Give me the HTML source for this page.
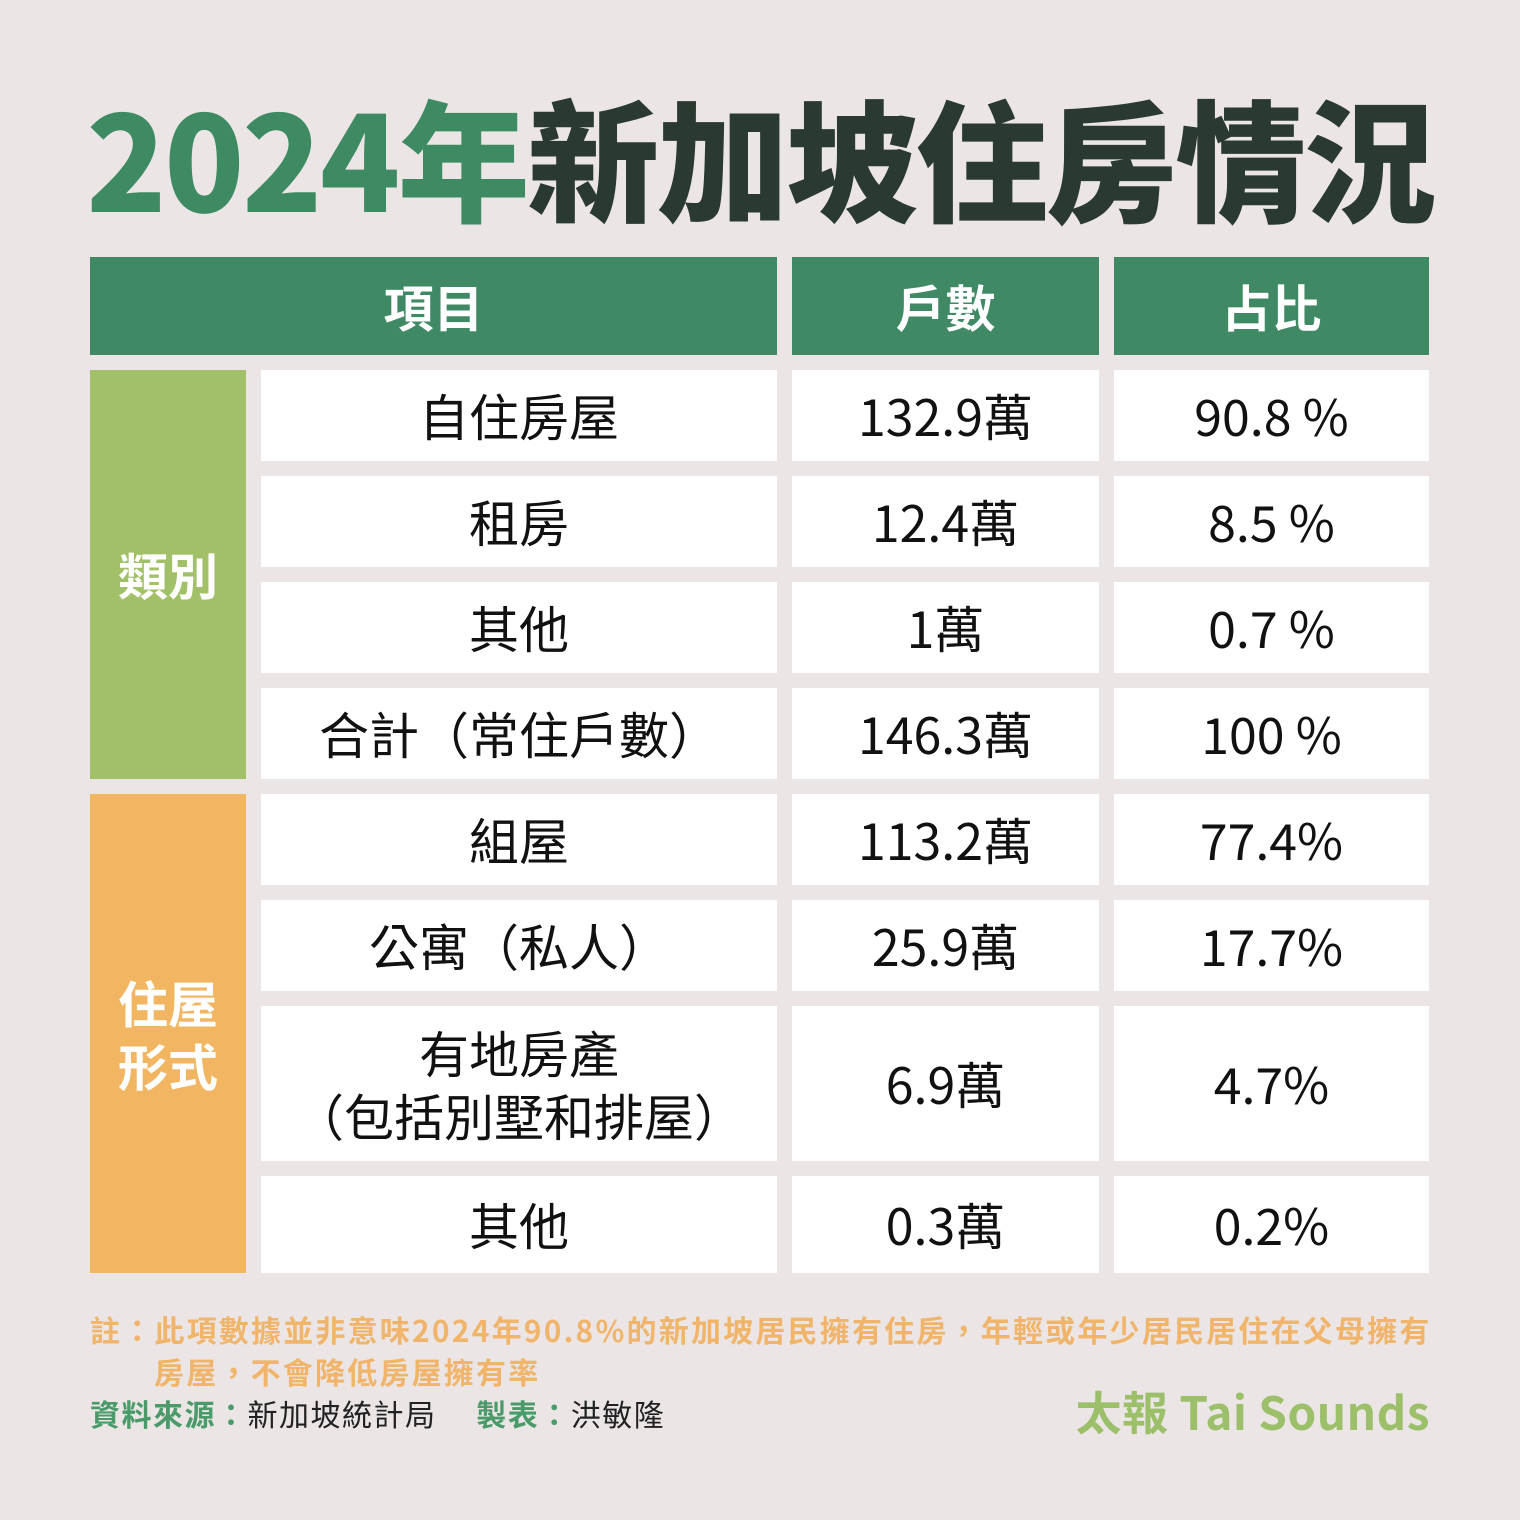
<!DOCTYPE html>
<html><head><meta charset="utf-8"><style>
body{margin:0;width:1520px;height:1520px;background:#ebe6e5;position:relative;overflow:hidden;font-family:"Noto Sans CJK TC","Liberation Sans",sans-serif}
.a{position:absolute;display:flex;align-items:center;justify-content:center;text-align:center}
.h{background:#3f8a65;color:#fff;font-weight:bold;font-size:50px}
.c{background:#fff;color:#111;font-size:50px;line-height:1.25}
.g{background:#a1c068;color:#fff;font-weight:bold;font-size:50px;line-height:1.25}
.o{background:#f2b663;color:#fff;font-weight:bold;font-size:50px;line-height:1.25}
</style></head><body>
<div class="a" style="left:60px;top:80px;width:1400px;height:150px;font-size:132px;font-weight:900;letter-spacing:-2.5px;font-family:'Noto Sans CJK TC',sans-serif;color:#2b3a30"><span style="color:#3d8a63">2024年</span>新加坡住房情況</div>

<div class="a h" style="left:90px;top:257px;width:687px;height:98px">項目</div>
<div class="a h" style="left:792px;top:257px;width:307px;height:98px">戶數</div>
<div class="a h" style="left:1114px;top:257px;width:315px;height:98px">占比</div>

<div class="a g" style="left:90px;top:370px;width:156px;height:409px">類別</div>
<div class="a o" style="left:90px;top:794px;width:156px;height:479px">住屋<br>形式</div>

<div id="rows"></div>
<script>
const items=["自住房屋","租房","其他","合計（常住戶數）","組屋","公寓（私人）","有地房產<br>（包括別墅和排屋）","其他"];
const counts=["132.9萬","12.4萬","1萬","146.3萬","113.2萬","25.9萬","6.9萬","0.3萬"];
const shares=["90.8 %","8.5 %","0.7 %","100 %","77.4%","17.7%","4.7%","0.2%"];
const tops=[370,476,582,688,794,900,1006,1176];
const hs=[91,91,91,91,91,91,155,97];
const cont=document.getElementById('rows');
const cols=[[261,516],[792,307],[1114,315]];
for(let i=0;i<items.length;i++){
 const vals=[items[i],counts[i],shares[i]];
 const names=['row-item','row-count','row-share'];
 for(let j=0;j<3;j++){
  const d=document.createElement('div');
  d.className='a c';
  d.style.cssText=`left:${cols[j][0]}px;top:${tops[i]}px;width:${cols[j][1]}px;height:${hs[i]}px`;
  d.innerHTML=vals[j];
  
  
  cont.appendChild(d);
 }
}
</script>

<div style="position:absolute;left:90px;top:1308px;width:1400px;font-size:30px;letter-spacing:2.2px;font-weight:bold;color:#f0b56a;line-height:42px;white-space:nowrap">註：此項數據並非意味2024年90.8%的新加坡居民擁有住房，年輕或年少居民居住在父母擁有<br><span style="padding-left:64px">房屋，不會降低房屋擁有率</span></div>
<div style="position:absolute;left:90px;top:1392px;font-size:30px;letter-spacing:1.5px;color:#222;line-height:42px;white-space:nowrap"><b style="color:#4a9a6a">資料來源：</b>新加坡統計局　 <b style="color:#4a9a6a">製表：</b>洪敏隆</div>
<div style="position:absolute;right:90px;top:1378px;font-size:46px;font-weight:bold;letter-spacing:0.5px;color:#9cbf6a">太報 Tai Sounds</div>
</body></html>
